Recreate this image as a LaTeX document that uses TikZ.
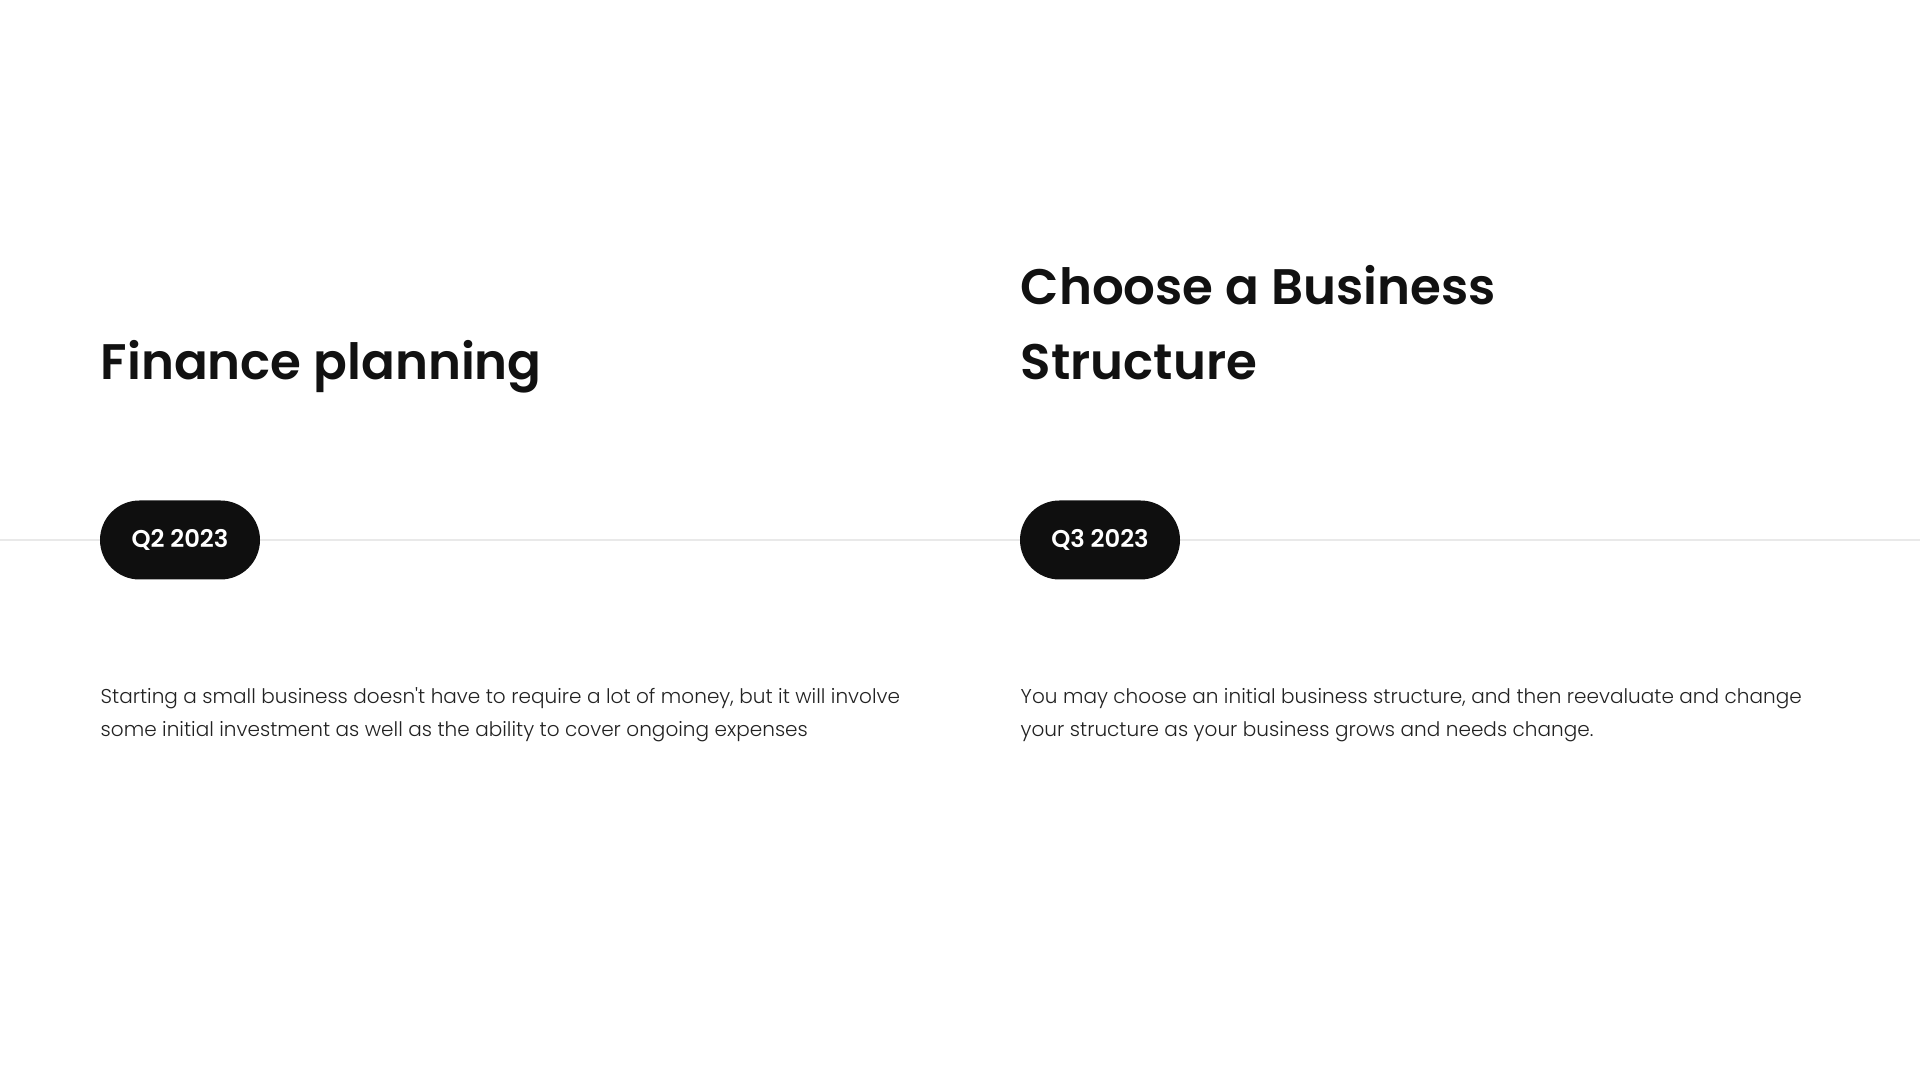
\documentclass[tikz,border=0pt]{standalone}
\usepackage{fontspec}
\setmainfont{Poppins}
\newfontfamily\headfont{Poppins SemiBold}
\newfontfamily\bodyfont{Poppins Light}
\usetikzlibrary{positioning,calc}

\definecolor{pillblack}{HTML}{0F0F0F}
\definecolor{headink}{HTML}{111111}
\definecolor{bodyink}{HTML}{222222}
\definecolor{rulegray}{HTML}{E9E9E9}

\begin{document}
\begin{tikzpicture}[
    heading/.style={inner sep=0pt,anchor=base west,align=left,text=headink,
        font=\headfont\fontsize{14.2pt}{21.5pt}\selectfont},
    pill/.style={fill=pillblack,text=white,rounded corners=0.395cm,
        minimum width=1.6cm,minimum height=0.79cm,inner sep=0pt,
        font=\headfont\fontsize{6.9pt}{8pt}\selectfont},
    desc/.style={inner sep=0pt,anchor=base west,align=left,text=bodyink,
        font=\bodyfont\fontsize{5.7pt}{9.4pt}\selectfont},
    timeline/.style={draw=rulegray,line width=0.6pt},
]
\useasboundingbox (0,0) rectangle (19.2,10.8);

% Timeline
\coordinate (lineL) at (0,5.40);
\coordinate (lineR) at (19.2,5.40);
\draw[timeline] (lineL) -- (lineR);

% Q2 column
\node[heading] (headQ2) at (1.00,7.00) {Finance planning};
\node[pill] (pillQ2) at (1.80,5.40) {Q2 2023};
\node[desc] (descQ2) at (1.00,3.43) {Starting a small business doesn't have to require a lot of money, but it will involve\\some initial investment as well as the ability to cover ongoing expenses};

% Q3 column
\node[heading] (headQ3) at (10.20,7.00) {Choose a Business\\Structure};
\node[pill] (pillQ3) at (11.00,5.40) {Q3 2023};
\node[desc] (descQ3) at (10.20,3.43) {You may choose an initial business structure, and then reevaluate and change\\your structure as your business grows and needs change.};

\end{tikzpicture}
\end{document}
